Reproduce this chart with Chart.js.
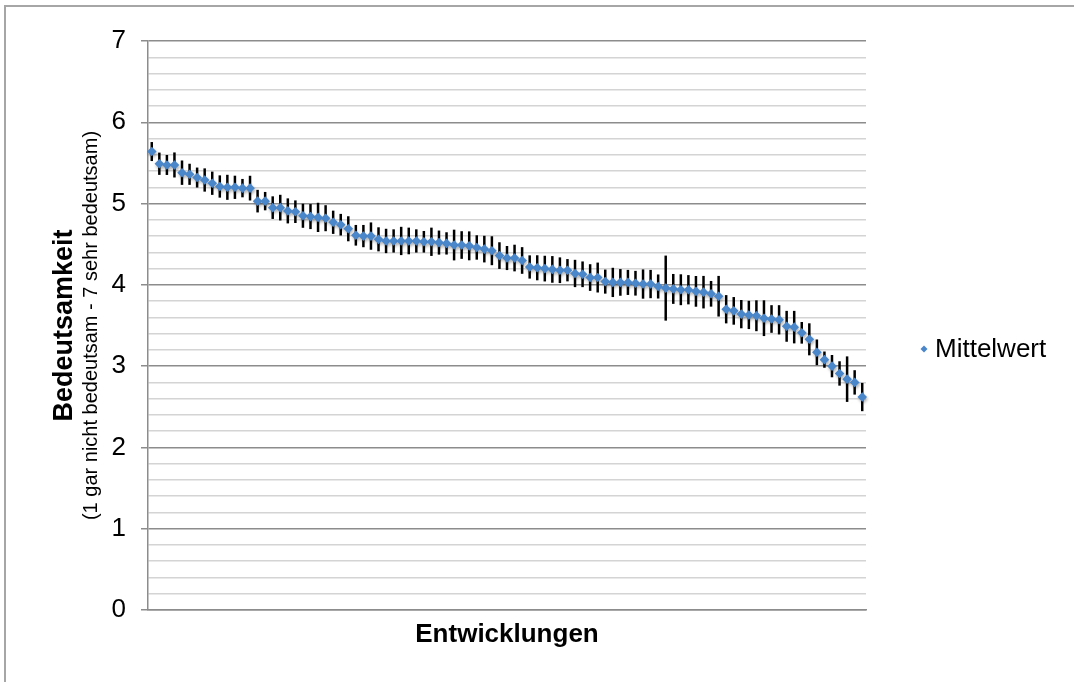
<!DOCTYPE html>
<html>
<head>
<meta charset="utf-8">
<script src="https://cdn.jsdelivr.net/npm/chart.js@4"></script>
<style>
  html, body { margin: 0; padding: 0; background: #fff; overflow: hidden; }
  #frame { position: absolute; left: 4px; top: 5px; width: 1200px; height: 800px;
           border-left: 2px solid #a6a6a6; border-top: 2px solid #a6a6a6; }
  #chart { position: absolute; left: 0; top: 0; }
</style>
</head>
<body>
<div id="frame"></div>
<canvas id="chart" width="1074" height="682"></canvas>
<script>
// Mittelwerte je Entwicklung (absteigend sortiert)
var means = [
  5.64, 5.49, 5.475, 5.475, 5.38, 5.36, 5.32, 5.29, 5.25, 5.21, 5.20, 5.20, 5.19, 5.19, 5.03, 5.03,
  4.95, 4.95, 4.91, 4.90, 4.85, 4.84, 4.83, 4.82, 4.77, 4.74, 4.69, 4.61, 4.60, 4.60, 4.56, 4.54,
  4.54, 4.54, 4.54, 4.54, 4.53, 4.53, 4.52, 4.51, 4.49, 4.49, 4.48, 4.46, 4.44, 4.42, 4.36, 4.33,
  4.33, 4.30, 4.22, 4.21, 4.20, 4.19, 4.18, 4.18, 4.14, 4.13, 4.09, 4.09, 4.04, 4.03,
  4.03, 4.03, 4.02, 4.01, 4.01, 3.98, 3.96, 3.95, 3.94, 3.94, 3.92, 3.91, 3.89, 3.86, 3.70, 3.68,
  3.64, 3.63, 3.62, 3.59, 3.58, 3.57, 3.49, 3.48, 3.41, 3.33, 3.17, 3.08, 3.00, 2.91, 2.84, 2.80, 2.62
];

// Fehlerbalken (+/-)
var errors = [
  0.117, 0.137, 0.123, 0.154, 0.150, 0.130, 0.123, 0.143, 0.143, 0.137, 0.154, 0.143, 0.113, 0.152, 0.139, 0.113,
  0.139, 0.158, 0.154, 0.139, 0.148, 0.154, 0.180, 0.160, 0.143, 0.133, 0.154, 0.127, 0.137, 0.168, 0.148, 0.150,
  0.143, 0.174, 0.164, 0.143, 0.133, 0.174, 0.148, 0.137, 0.189, 0.170, 0.178, 0.150, 0.164, 0.178, 0.164, 0.148,
  0.164, 0.164, 0.143, 0.154, 0.158, 0.164, 0.158, 0.137, 0.168, 0.158, 0.164, 0.184, 0.148, 0.180,
  0.164, 0.154, 0.152, 0.180, 0.174, 0.148, 0.400, 0.184, 0.190, 0.180, 0.189, 0.200, 0.158, 0.250, 0.174, 0.170,
  0.174, 0.174, 0.190, 0.220, 0.170, 0.180, 0.190, 0.200, 0.133, 0.197, 0.158, 0.100, 0.137, 0.150, 0.280, 0.150, 0.174
];

var categories = means.map(function(v, i) { return String(i + 1); });

var yTitle = 'Bedeutsamkeit';
var ySubtitle = '(1 gar nicht bedeutsam - 7 sehr bedeutsam)';
var xTitle = 'Entwicklungen';
var seriesName = 'Mittelwert';

var FONT = "'Liberation Sans', Arial, sans-serif";
var BLUE = 'rgb(74, 134, 202)';

function isMajor(v) { return Math.abs(v - Math.round(v)) < 1e-6; }

// schwarze Fehlerbalken hinter den Punkten
var errorBars = {
  id: 'errorBars',
  beforeDatasetsDraw: function(chart) {
    var ctx = chart.ctx, x = chart.scales.x, y = chart.scales.y;
    ctx.save();
    ctx.strokeStyle = '#000';
    ctx.lineWidth = 2.5;
    means.forEach(function(m, i) {
      var px = x.getPixelForValue(i);
      ctx.beginPath();
      ctx.moveTo(px, y.getPixelForValue(m + errors[i]));
      ctx.lineTo(px, y.getPixelForValue(m - errors[i]));
      ctx.stroke();
    });
    ctx.restore();
  }
};

// leichter Schatten unter den Markern
var markerShadow = {
  id: 'markerShadow',
  beforeDatasetDraw: function(chart) {
    var ctx = chart.ctx;
    ctx.save();
    ctx.shadowColor = 'rgba(0,0,0,0.3)';
    ctx.shadowBlur = 3;
    ctx.shadowOffsetX = 1;
    ctx.shadowOffsetY = 2;
  },
  afterDatasetDraw: function(chart) {
    chart.ctx.restore();
  }
};

// Untertitel der y-Achse und Legende rechts
var extras = {
  id: 'extras',
  afterDraw: function(chart) {
    var ctx = chart.ctx, area = chart.chartArea;
    var cy = (area.top + area.bottom) / 2;
    ctx.save();
    ctx.fillStyle = '#000';
    ctx.translate(91, cy);
    ctx.rotate(-Math.PI / 2);
    ctx.font = '20px ' + FONT;
    ctx.textAlign = 'center';
    ctx.textBaseline = 'middle';
    ctx.fillText(ySubtitle, 0, 0);
    ctx.restore();

    ctx.save();
    var lx = 924, ly = 349;
    ctx.fillStyle = BLUE;
    ctx.beginPath();
    ctx.moveTo(lx - 3.5, ly);
    ctx.lineTo(lx, ly - 3.5);
    ctx.lineTo(lx + 3.5, ly);
    ctx.lineTo(lx, ly + 3.5);
    ctx.closePath();
    ctx.fill();
    ctx.fillStyle = '#000';
    ctx.font = '26px ' + FONT;
    ctx.textAlign = 'left';
    ctx.textBaseline = 'middle';
    ctx.fillText(seriesName, 935, ly + 1);
    ctx.restore();
  }
};

new Chart(document.getElementById('chart').getContext('2d'), {
  type: 'line',
  data: {
    labels: categories,
    datasets: [{
      label: seriesName,
      data: means,
      showLine: false,
      pointStyle: 'rectRot',
      pointRadius: 4.8,
      pointBorderWidth: 0,
      pointBackgroundColor: BLUE,
      pointBorderColor: BLUE
    }]
  },
  options: {
    responsive: false,
    animation: false,
    layout: { padding: { left: 0, top: 41, right: 208, bottom: 0 } },
    plugins: {
      legend: { display: false },
      tooltip: { enabled: false }
    },
    scales: {
      x: {
        type: 'category',
        offset: true,
        grid: { display: false },
        border: { color: '#8c8c8c', width: 1.5 },
        ticks: { display: false },
        title: {
          display: true,
          text: xTitle,
          color: '#000',
          font: { family: FONT, size: 26, weight: 'bold' },
          padding: { top: 0, bottom: 32 }
        },
        afterFit: function(scale) { scale.height = 72; }
      },
      y: {
        min: 0,
        max: 7,
        border: { color: '#8c8c8c', width: 1.5 },
        grid: {
          color: function(c) { return isMajor(c.tick.value) ? '#8c8c8c' : '#d4d4d4'; },
          lineWidth: 1.5,
          tickColor: function(c) { return isMajor(c.tick.value) ? '#8c8c8c' : 'rgba(0,0,0,0)'; },
          tickLength: 7
        },
        ticks: {
          stepSize: 0.2,
          autoSkip: false,
          color: '#000',
          padding: 15,
          font: { family: FONT, size: 26 },
          callback: function(v) { return isMajor(v) ? String(Math.round(v)) : ''; }
        },
        title: {
          display: true,
          text: yTitle,
          color: '#000',
          font: { family: FONT, size: 27, weight: 'bold' },
          padding: { top: 48, bottom: 0 }
        },
        afterFit: function(scale) { scale.width = 148; }
      }
    }
  },
  plugins: [errorBars, markerShadow, extras]
});
</script>
</body>
</html>
